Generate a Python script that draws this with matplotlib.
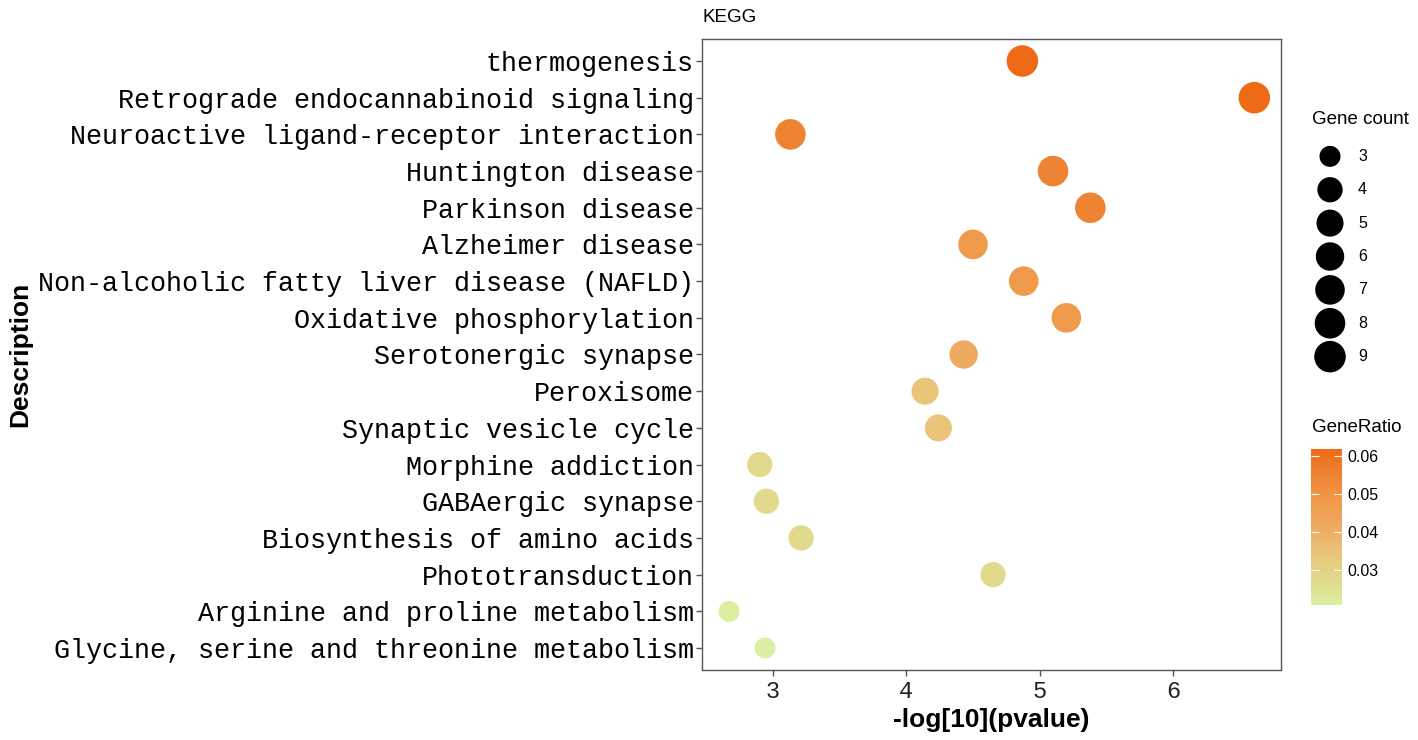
import numpy as np
import matplotlib
matplotlib.use("Agg")
import matplotlib.pyplot as plt
from matplotlib.colors import LinearSegmentedColormap, Normalize

# KEGG enrichment terms, top to bottom as shown
terms = [
    "thermogenesis",
    "Retrograde endocannabinoid signaling",
    "Neuroactive ligand-receptor interaction",
    "Huntington disease",
    "Parkinson disease",
    "Alzheimer disease",
    "Non-alcoholic fatty liver disease (NAFLD)",
    "Oxidative phosphorylation",
    "Serotonergic synapse",
    "Peroxisome",
    "Synaptic vesicle cycle",
    "Morphine addiction",
    "GABAergic synapse",
    "Biosynthesis of amino acids",
    "Phototransduction",
    "Arginine and proline metabolism",
    "Glycine, serine and threonine metabolism",
]
neg_log_p = [4.87, 6.61, 3.13, 5.10, 5.38, 4.50, 4.88, 5.20, 4.43,
             4.14, 4.24, 2.90, 2.95, 3.21, 4.65, 2.67, 2.94]
gene_count = [9, 9, 8, 8, 8, 7, 7, 7, 6, 5, 5, 4, 4, 4, 4, 3, 3]
gene_ratio = [0.0621, 0.0621, 0.0552, 0.0552, 0.0552, 0.0483, 0.0483, 0.0483,
              0.0414, 0.0345, 0.0345, 0.0276, 0.0276, 0.0276, 0.0276,
              0.0207, 0.0207]

size_breaks = [3, 4, 5, 6, 7, 8, 9]
ratio_ticks = [0.03, 0.04, 0.05, 0.06]

DPI = 100
serif_mono = "Liberation Mono"
sans = "Liberation Sans"


def marker_area(c):
    # ggplot-like area scale: diameter grows with sqrt of rescaled count
    c = np.asarray(c, dtype=float)
    d_px = 21 + 10.5 * np.sqrt((c - 3) / 6.0)
    d_pt = d_px * 72.0 / DPI
    return d_pt ** 2


cmap = LinearSegmentedColormap.from_list(
    "ratio",
    [(0.0, "#DCEEA0"), (0.167, "#E1D98B"), (0.333, "#E9C47A"),
     (0.5, "#EEAA60"), (0.667, "#F09A4B"), (0.833, "#EE8433"),
     (1.0, "#EE6A17")])
norm = Normalize(vmin=min(gene_ratio), vmax=max(gene_ratio))

W, H = 1418, 740
fig = plt.figure(figsize=(W / DPI, H / DPI), dpi=DPI)

# main panel
ax = fig.add_axes([702 / W, 1 - 670 / H, (1281 - 702) / W, (670 - 39) / H])
y = np.arange(len(terms))
ax.scatter(neg_log_p, y, s=marker_area(gene_count), c=gene_ratio,
           cmap=cmap, norm=norm, linewidths=0, zorder=3)
ax.set_ylim(len(terms) - 0.4, -0.6)
ax.set_xlim(2.467, 6.81)
ax.set_yticks(y)
ax.set_yticklabels(terms, fontsize=19.3, family=serif_mono, color="black")
ax.set_xticks([3, 4, 5, 6])
ax.set_xticklabels(["3", "4", "5", "6"], fontsize=17, family=serif_mono,
                   color="#222222")
for sp in ax.spines.values():
    sp.set_color("#555555")
    sp.set_linewidth(1.0)
ax.tick_params(axis="both", color="#555555", length=4, width=1.0)
ax.tick_params(axis="y", pad=2)
ax.tick_params(axis="x", pad=3)

ax.set_xlabel("-log[10](pvalue)", fontsize=19, fontweight="bold",
              family=sans, labelpad=4)
ax.set_ylabel("Description", fontsize=19, fontweight="bold",
              family=sans, labelpad=4)
ax.set_title("KEGG", loc="left", fontsize=13.5, family=sans, pad=12)

# size legend
fig.text(1312 / W, 1 - 120 / H, "Gene count", fontsize=13.5, family=sans,
         va="center", ha="left")
lax = fig.add_axes([1310 / W, 1 - 375 / H, 100 / W, (375 - 138) / H])
lax.scatter(np.zeros(len(size_breaks)), np.arange(len(size_breaks)),
            s=marker_area(size_breaks), color="black", linewidths=0)
for i, b in enumerate(size_breaks):
    lax.text(1.4, i, str(b), fontsize=11.5, family=sans, va="center",
             ha="left")
lax.set_xlim(-1.0, 4.0)
lax.set_ylim(len(size_breaks) - 0.45, -0.55)
lax.axis("off")

# colour bar
fig.text(1312 / W, 1 - 427 / H, "GeneRatio", fontsize=13.5, family=sans,
         va="center", ha="left")
cax = fig.add_axes([1311 / W, 1 - 605 / H, 31 / W, (605 - 448.5) / H])
sm = plt.cm.ScalarMappable(norm=norm, cmap=cmap)
cb = fig.colorbar(sm, cax=cax, ticks=ratio_ticks)
cb.outline.set_visible(False)
cb.ax.set_yticklabels([f"{t:.2f}" for t in ratio_ticks], fontsize=11.5,
                      family=sans)
cb.ax.tick_params(direction="in", color="white", length=6, width=0.8,
                  left=True, right=True, pad=4)

fig.savefig("out.png", dpi=DPI)
